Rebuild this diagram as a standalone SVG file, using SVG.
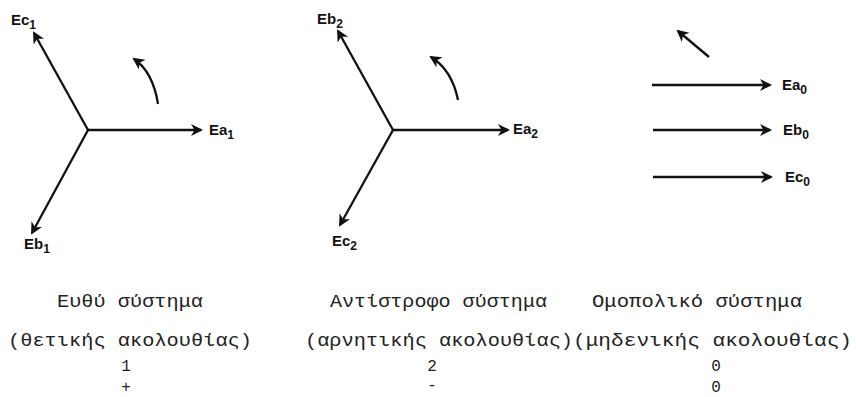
<svg xmlns="http://www.w3.org/2000/svg" width="856" height="397" viewBox="0 0 856 397">
<style>
.v{stroke:#111;stroke-width:2.3;fill:none;marker-end:url(#ah)}
.lb{font-family:"Liberation Sans",Arial,sans-serif;font-weight:bold;font-size:15px;fill:#111}
.sb{font-size:12px}
.tx{font-family:"Liberation Mono","DejaVu Sans Mono",monospace;font-size:19px;fill:#222}
.nm{font-family:"Liberation Mono","DejaVu Sans Mono",monospace;font-size:16px;fill:#222}
</style>
<defs>
<marker id="ah" markerWidth="14" markerHeight="14" refX="10" refY="6" orient="auto" markerUnits="userSpaceOnUse">
<path d="M0,0 L12,6 L0,12 L3.5,6 Z" fill="#111"/>
</marker>
</defs>
<rect width="856" height="397" fill="#fff"/>
<g id="connectors">
<path class="v" d="M88,130 L201,130"/>
<path class="v" d="M88,130 L34,33"/>
<path class="v" d="M88,130 L32,233"/>
<path class="v" d="M158,104 Q153,72 134,59"/>
<path class="v" d="M393,130 L508,130"/>
<path class="v" d="M393,130 L338,31"/>
<path class="v" d="M393,130 L340,225"/>
<path class="v" d="M458,100 Q452,70 431,57"/>
<path class="v" d="M709,57 L678,31"/>
<path class="v" d="M652,85 L770,85"/>
<path class="v" d="M653,130 L770,130"/>
<path class="v" d="M653,177 L771,177"/>
</g>
<g id="labels1">
<text class="lb" x="11" y="25">Ec<tspan class="sb" dy="4">1</tspan></text>
<text class="lb" x="209" y="135">Ea<tspan class="sb" dy="4">1</tspan></text>
<text class="lb" x="24" y="249">Eb<tspan class="sb" dy="4">1</tspan></text>
</g>
<g id="labels2">
<text class="lb" x="317" y="24">Eb<tspan class="sb" dy="4">2</tspan></text>
<text class="lb" x="513" y="134">Ea<tspan class="sb" dy="4">2</tspan></text>
<text class="lb" x="332" y="246">Ec<tspan class="sb" dy="4">2</tspan></text>
</g>
<g id="labels3">
<text class="lb" x="782" y="90">Ea<tspan class="sb" dy="4">0</tspan></text>
<text class="lb" x="783" y="135">Eb<tspan class="sb" dy="4">0</tspan></text>
<text class="lb" x="785" y="182">Ec<tspan class="sb" dy="4">0</tspan></text>
</g>
<g id="captions">
<text class="tx" x="57" y="307" textLength="146" lengthAdjust="spacingAndGlyphs">Ευθύ σύστημα</text>
<text class="tx" x="8" y="346" textLength="244" lengthAdjust="spacingAndGlyphs">(θετικής ακολουθίας)</text>
<text class="nm" x="126" y="371" text-anchor="middle">1</text>
<text class="nm" x="126" y="392" text-anchor="middle">+</text>
<text class="tx" x="330" y="307" textLength="217" lengthAdjust="spacingAndGlyphs">Αντίστροφο σύστημα</text>
<text class="tx" x="305" y="346" textLength="268" lengthAdjust="spacingAndGlyphs">(αρνητικής ακολουθίας)</text>
<text class="nm" x="432" y="371" text-anchor="middle">2</text>
<text class="nm" x="432" y="390" text-anchor="middle">-</text>
<text class="tx" x="592" y="307" textLength="210" lengthAdjust="spacingAndGlyphs">Ομοπολικό σύστημα</text>
<text class="tx" x="573" y="346" textLength="279" lengthAdjust="spacingAndGlyphs">(μηδενικής ακολουθίας)</text>
<text class="nm" x="716" y="371" text-anchor="middle">0</text>
<text class="nm" x="716" y="392" text-anchor="middle">0</text>
</g>
</svg>
